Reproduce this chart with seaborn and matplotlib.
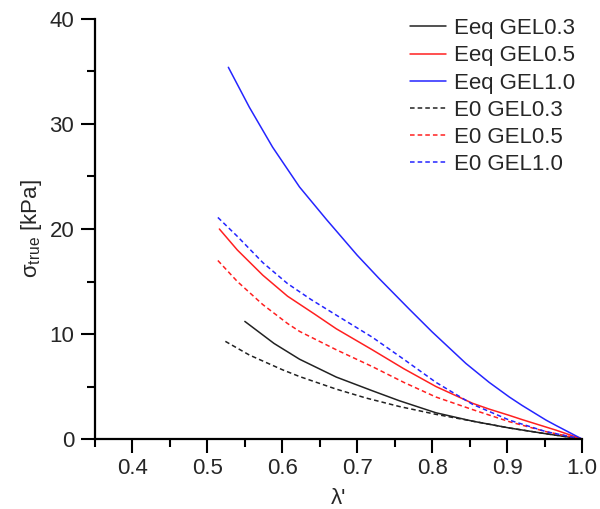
import matplotlib
matplotlib.use("Agg")
import matplotlib.pyplot as plt
import seaborn as sns
import numpy as np
import pandas as pd
from matplotlib.ticker import MultipleLocator, FormatStrFormatter

# --- data ---
eeq03_x = [0.550, 0.589, 0.623, 0.672, 0.720, 0.756, 0.805, 0.854, 0.903, 0.952, 1.000]
eeq03_y = [11.2, 9.1, 7.6, 5.9, 4.6, 3.65, 2.5, 1.7, 1.05, 0.5, 0.0]
eeq05_x = [0.516, 0.540, 0.574, 0.607, 0.643, 0.672, 0.720, 0.762, 0.805, 0.854, 0.876, 0.903, 0.920, 0.965, 1.000]
eeq05_y = [20.0, 18.0, 15.6, 13.6, 11.9, 10.5, 8.5, 6.7, 5.0, 3.4, 2.85, 2.25, 1.85, 0.85, 0.0]
eeq10_x = [0.528, 0.556, 0.587, 0.623, 0.659, 0.700, 0.729, 0.769, 0.800, 0.845, 0.876, 0.903, 0.920, 0.952, 0.965, 1.000]
eeq10_y = [35.4, 31.6, 27.8, 24.0, 20.9, 17.5, 15.3, 12.4, 10.2, 7.2, 5.4, 4.0, 3.2, 1.8, 1.3, 0.0]
e003_x = [0.524, 0.556, 0.600, 0.623, 0.672, 0.712, 0.756, 0.805, 0.854, 0.903, 0.952, 1.000]
e003_y = [9.3, 8.0, 6.6, 5.95, 4.75, 3.9, 3.1, 2.35, 1.7, 1.05, 0.5, 0.0]
e005_x = [0.514, 0.540, 0.574, 0.607, 0.623, 0.672, 0.720, 0.762, 0.805, 0.854, 0.903, 0.952, 1.000]
e005_y = [17.0, 15.0, 12.8, 11.0, 10.25, 8.5, 6.9, 5.4, 4.0, 2.8, 1.65, 0.7, 0.0]
e010_x = [0.514, 0.540, 0.574, 0.607, 0.638, 0.672, 0.720, 0.762, 0.805, 0.854, 0.903, 0.952, 1.000]
e010_y = [21.1, 19.3, 16.8, 14.8, 13.3, 11.8, 9.7, 7.6, 5.4, 3.3, 1.8, 0.7, 0.0]

labels = ["Eeq GEL0.3", "Eeq GEL0.5", "Eeq GEL1.0", "E0 GEL0.3", "E0 GEL0.5", "E0 GEL1.0"]
xs = [eeq03_x, eeq05_x, eeq10_x, e003_x, e005_x, e010_x]
ys = [eeq03_y, eeq05_y, eeq10_y, e003_y, e005_y, e010_y]
colors = ["#222222", "#ff2020", "#2525ff", "#222222", "#ff2020", "#2525ff"]
styles = ["-", "-", "-", (0, (3, 2)), (0, (3, 2)), (0, (3, 2))]

sns.set_style("ticks")
plt.rcParams["font.family"] = ["Liberation Sans", "DejaVu Sans"]
plt.rcParams["mathtext.default"] = "regular"

fig = plt.figure(figsize=(6.0, 5.09), dpi=100)
ax = fig.add_axes([0.1583, 0.1375, 0.97 - 0.1583, 0.9627 - 0.1375])

for lab, x, y, c, ls in zip(labels, xs, ys, colors, styles):
    df = pd.DataFrame({"x": x, "y": y})
    sns.lineplot(data=df, x="x", y="y", ax=ax, color=c, linestyle=ls,
                 linewidth=1.1, label=lab, sort=False, estimator=None)

ax.set_xlim(0.35, 1.0)
ax.set_ylim(0, 40)
ax.xaxis.set_major_locator(MultipleLocator(0.1))
ax.xaxis.set_minor_locator(MultipleLocator(0.05))
ax.xaxis.set_major_formatter(FormatStrFormatter("%.1f"))
ax.yaxis.set_major_locator(MultipleLocator(10))
ax.yaxis.set_minor_locator(MultipleLocator(5))

for s in ["top", "right"]:
    ax.spines[s].set_visible(False)
for s in ["left", "bottom"]:
    ax.spines[s].set_linewidth(1.6)
    ax.spines[s].set_color("black")

ax.tick_params(which="major", length=10, width=1.5, labelsize=16, pad=4, color="black")
ax.tick_params(which="minor", length=6, width=1.5, color="black")
ax.tick_params(axis="y", which="major", pad=5)

ax.set_xlabel("λ'", fontsize=16, labelpad=6)
ax.set_ylabel(r"$\sigma_{true}$ [kPa]", fontsize=16, labelpad=4)

leg = ax.legend(loc="upper right", bbox_to_anchor=(0.985, 1.002), frameon=False,
                fontsize=16, handlelength=1.6, handletextpad=0.35,
                labelspacing=0.28, borderaxespad=0, borderpad=0)

fig.savefig("out.png", dpi=100)
